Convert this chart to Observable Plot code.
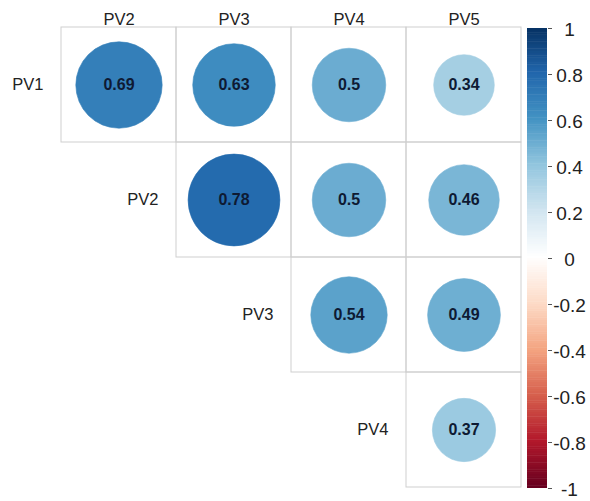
<!DOCTYPE html>
<html>
<head>
<meta charset="utf-8">
<script src="https://cdn.jsdelivr.net/npm/d3@7"></script>
<script src="https://cdn.jsdelivr.net/npm/@observablehq/plot@0.6"></script>
<style>
  body { margin: 0; background: #fff; }
  #chart { position: relative; width: 590px; height: 501px; font-family: "Liberation Sans", Arial, sans-serif; }
  #chart svg { position: absolute; top: 0; }
</style>
</head>
<body>
<div id="chart"></div>
<script>
// Variables shown in the correlation matrix (upper triangle)
const rowVars = ["PV1", "PV2", "PV3", "PV4"];
const colVars = ["PV2", "PV3", "PV4", "PV5"];
// Correlation coefficients, one list per row (null = below diagonal)
const rPV1 = [0.69, 0.63, 0.5, 0.34];
const rPV2 = [null, 0.78, 0.5, 0.46];
const rPV3 = [null, null, 0.54, 0.49];
const rPV4 = [null, null, null, 0.37];
const rowValues = [rPV1, rPV2, rPV3, rPV4];

// Colour bar ticks and diverging red–blue palette
const barTicks = [1, 0.8, 0.6, 0.4, 0.2, 0, -0.2, -0.4, -0.6, -0.8, -1];
const paletteStops = [-1, -0.8, -0.6, -0.4, -0.2, 0, 0.2, 0.4, 0.6, 0.8, 1];
const paletteColors = ["#67001F", "#B2182B", "#D6604D", "#F4A582", "#FDDBC7", "#FFFFFF",
                       "#D1E5F0", "#92C5DE", "#4393C3", "#2166AC", "#053061"];

// Cells of the upper triangle and their coefficients
const cells = [];
rowVars.forEach((row, i) => {
  colVars.forEach((col, j) => {
    if (j >= i) cells.push({row, col, v: rowValues[i][j]});
  });
});
const diagonal = rowVars.map((row, i) => ({row, col: colVars[i]}));

const colorScale = {
  type: "linear",
  domain: paletteStops,
  range: paletteColors,
  interpolate: "rgb"
};

const fontFamily = '"Liberation Sans", Arial, sans-serif';

const matrix = Plot.plot({
  width: 525,
  height: 501,
  marginLeft: 61,
  marginRight: 4,
  marginTop: 27,
  marginBottom: 14,
  style: {fontFamily, background: "transparent"},
  x: {type: "band", domain: colVars, padding: 0, axis: null, label: null},
  y: {type: "band", domain: rowVars, padding: 0, axis: null, label: null},
  r: {type: "sqrt", domain: [0, 1], range: [0, 52]},
  color: colorScale,
  marks: [
    Plot.cell(cells, {x: "col", y: "row", fill: "none", stroke: "#cfcfcf", strokeWidth: 1, inset: 0}),
    Plot.dot(cells, {x: "col", y: "row", r: d => Math.abs(d.v), fill: "v", stroke: "v", strokeWidth: 0.6}),
    Plot.text(cells, {x: "col", y: "row", text: d => String(d.v), fontSize: 16, fontWeight: "bold", fill: "#0e1a33"}),
    Plot.axisX({anchor: "top", label: null, tickSize: 0, tickPadding: 3, fontSize: 16.5, fill: "#222"}),
    // Row names sit just left of each row's first (diagonal) cell
    Plot.text(diagonal, {x: "col", y: "row", text: "row", textAnchor: "end", dx: -75.5, fontSize: 16.5, fill: "#222"})
  ]
});
matrix.style.left = "0px";

// Vertical colour bar drawn from the same palette
const rampStep = 0.01;
const ramp = d3.range(-1, 1, rampStep).map(v => ({v, v2: Math.min(1, v + rampStep + 0.002)}));

const bar = Plot.plot({
  width: 65,
  height: 501,
  marginLeft: 2,
  marginRight: 43,
  marginTop: 28,
  marginBottom: 13,
  style: {fontFamily, background: "transparent"},
  x: {domain: [0, 1], axis: null},
  y: {domain: [-1, 1], axis: null},
  color: colorScale,
  marks: [
    Plot.rect(ramp, {x1: 0, x2: 1, y1: "v", y2: "v2", fill: "v"}),
    Plot.axisY({anchor: "right", ticks: barTicks, tickSize: 4, tickFormat: () => "", stroke: "#555"}),
    // Tick labels are centred in the space right of the bar
    Plot.text(barTicks, {y: d => d, text: d => String(d), frameAnchor: "right", dx: 22, dy: 1.5,
                         textAnchor: "middle", fontSize: 19, fill: "#222"})
  ]
});
bar.style.left = "525px";

const chart = document.getElementById("chart");
chart.append(matrix, bar);
</script>
</body>
</html>
